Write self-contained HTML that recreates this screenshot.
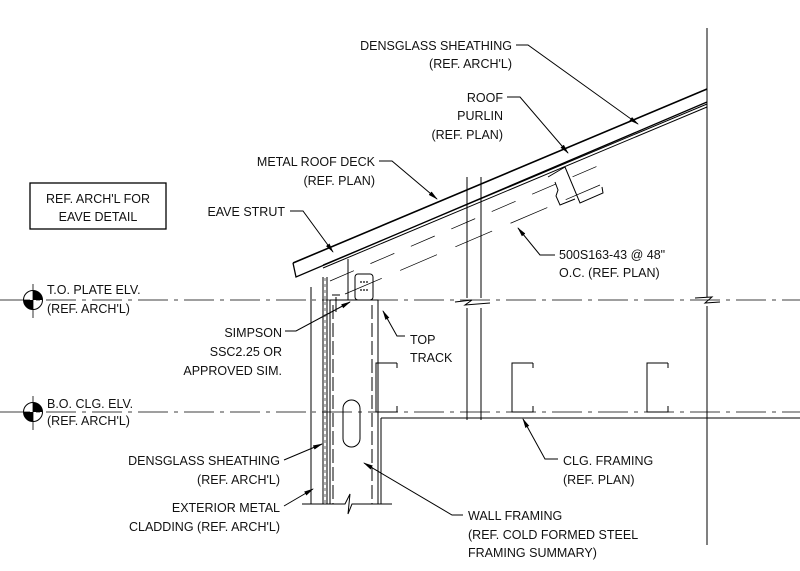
<!DOCTYPE html>
<html><head><meta charset="utf-8"><style>
html,body{margin:0;padding:0;background:#fff}
svg{display:block}
text{font-family:"Liberation Sans",sans-serif;font-size:12.5px;fill:#111}
</style></head><body>
<svg width="800" height="571" viewBox="0 0 800 571" xmlns="http://www.w3.org/2000/svg">
<defs><marker id="a" markerWidth="10" markerHeight="6" refX="9" refY="3" orient="auto" markerUnits="userSpaceOnUse"><path d="M0,0.8 L10,3 L0,5.2z" fill="#000"/></marker></defs>
<g stroke="#000" fill="none" stroke-width="1">
<!-- center lines -->
<line x1="0" y1="300" x2="800" y2="300" stroke-dasharray="30,6,4,6" stroke-width="0.8"/>
<line x1="0" y1="412" x2="800" y2="412" stroke-dasharray="30,6,4,6" stroke-width="0.8"/>
<!-- roof -->
<path d="M293,263 L707,89" stroke-width="1.6"/>
<path d="M293,263 L296,277 L707,102" stroke-width="1.3"/>
<path d="M323,265 L707,104" stroke-width="1"/>
<path d="M323,268 L707,107" stroke-width="1"/>
<path d="M330,281 L600,165" stroke-dasharray="26,18" stroke-width="0.7"/>
<path d="M345,294 L600,185" stroke-dasharray="40,20" stroke-width="0.7"/>
<!-- purlin -->
<path d="M565,167 L580,203 L603,193 L602,187"/>
<path d="M548,177 L565,167 M555,182 L558,190 L556,196 L560,205 L575,199"/>
<!-- right wall -->
<line x1="707" y1="28" x2="707" y2="297"/>
<line x1="707" y1="306" x2="707" y2="545"/>
<path d="M695,298 L712,297 L705,303 L720,302"/>
<!-- middle column -->
<path d="M467,177 L467,298 M481,177 L481,298 M455,302 L472,300 L465,305 L490,303 M467,308 L467,420 M481,308 L481,420"/>
<!-- wall -->
<path d="M311,287 L311,504 M323,277 L323,504 M327,277 L327,504 M330,300 L330,504"/>
<path d="M325,278 L325,504" stroke-dasharray="3,3" stroke-width="0.6"/>
<path d="M333,305 L333,504 M372,305 L372,504" stroke-dasharray="14,4"/>
<path d="M330,300 L378,300 L378,504 M381,418 L381,504 M381,418 L800,418"/>
<path d="M302,504 L345,504 L350,494 L348,514 L352,504 L392,504"/>
<path d="M348,259 L348,300"/>
<rect x="355" y="274" width="18" height="26" rx="3"/>
<path d="M336,297 L336,312 M332,295 L340,295"/>
<rect x="343" y="400" width="17" height="47" rx="8.5"/>
<!-- C channels -->
<path d="M397,363 L376,363 L376,412 L397,412 L397,406"/>
<path d="M533,363 L512,363 L512,412 L533,412 L533,406"/>
<path d="M668,363 L647,363 L647,412 L668,412 L668,406"/>
<path d="M397,363 L397,368 M533,363 L533,368 M668,363 L668,368"/>
<!-- box -->
<rect x="30" y="183" width="136" height="46" stroke-width="1.3"/>
<!-- datums -->
<circle cx="33" cy="300" r="9.5"/><circle cx="33" cy="412" r="9.5"/>
<path d="M33,284 L33,318 M33,396 L33,430" stroke-width="0.8"/>
<!-- leaders -->
<path d="M516,45 L528,45 L638,124" marker-end="url(#a)"/>
<path d="M507,97 L520,97 L568,153" marker-end="url(#a)"/>
<path d="M379,161 L392,161 L437,199" marker-end="url(#a)"/>
<path d="M290,211 L303,211 L333,252" marker-end="url(#a)"/>
<path d="M555,255 L540,255 L518,228" marker-end="url(#a)"/>
<path d="M285,331 L296,331 L350,302" marker-end="url(#a)"/>
<path d="M405,336 L397,336 L383,311" marker-end="url(#a)"/>
<path d="M284,460 L322,444" marker-end="url(#a)"/>
<path d="M284,506 L313,489" marker-end="url(#a)"/>
<path d="M558,459 L545,459 L523,419" marker-end="url(#a)"/>
<path d="M463,515 L452,515 L364,463" marker-end="url(#a)"/>
</g>
<path d="M33,290.5 A9.5,9.5 0 0 1 42.5,300 L33,300Z M33,309.5 A9.5,9.5 0 0 1 23.5,300 L33,300Z" fill="#000"/>
<path d="M33,402.5 A9.5,9.5 0 0 1 42.5,412 L33,412Z M33,421.5 A9.5,9.5 0 0 1 23.5,412 L33,412Z" fill="#000"/>
<g fill="#000"><circle cx="361" cy="282" r="0.9"/><circle cx="364" cy="282" r="0.9"/><circle cx="367" cy="282" r="0.9"/><circle cx="361" cy="290" r="0.9"/><circle cx="364" cy="290" r="0.9"/><circle cx="367" cy="290" r="0.9"/></g>
<g text-anchor="end">
<text x="512" y="50">DENSGLASS SHEATHING</text>
<text x="512" y="68">(REF. ARCH'L)</text>
<text x="503" y="102">ROOF</text>
<text x="503" y="120">PURLIN</text>
<text x="503" y="139">(REF. PLAN)</text>
<text x="375" y="166">METAL ROOF DECK</text>
<text x="375" y="185">(REF. PLAN)</text>
<text x="285" y="216">EAVE STRUT</text>
<text x="282" y="337">SIMPSON</text>
<text x="282" y="356">SSC2.25 OR</text>
<text x="282" y="375">APPROVED SIM.</text>
<text x="280" y="465">DENSGLASS SHEATHING</text>
<text x="280" y="484">(REF. ARCH'L)</text>
<text x="280" y="512">EXTERIOR METAL</text>
<text x="280" y="531">CLADDING (REF. ARCH'L)</text>
</g>
<text x="98" y="203" text-anchor="middle">REF. ARCH'L FOR</text>
<text x="98" y="221" text-anchor="middle">EAVE DETAIL</text>
<text x="559" y="259">500S163-43 @ 48"</text>
<text x="559" y="277">O.C. (REF. PLAN)</text>
<text x="47" y="294">T.O. PLATE ELV.</text>
<text x="47" y="313">(REF. ARCH'L)</text>
<text x="410" y="344">TOP</text>
<text x="410" y="362">TRACK</text>
<text x="47" y="408">B.O. CLG. ELV.</text>
<text x="47" y="425">(REF. ARCH'L)</text>
<text x="563" y="465">CLG. FRAMING</text>
<text x="563" y="484">(REF. PLAN)</text>
<text x="468" y="520">WALL FRAMING</text>
<text x="468" y="539">(REF. COLD FORMED STEEL</text>
<text x="468" y="557">FRAMING SUMMARY)</text>
</svg>
</body></html>
